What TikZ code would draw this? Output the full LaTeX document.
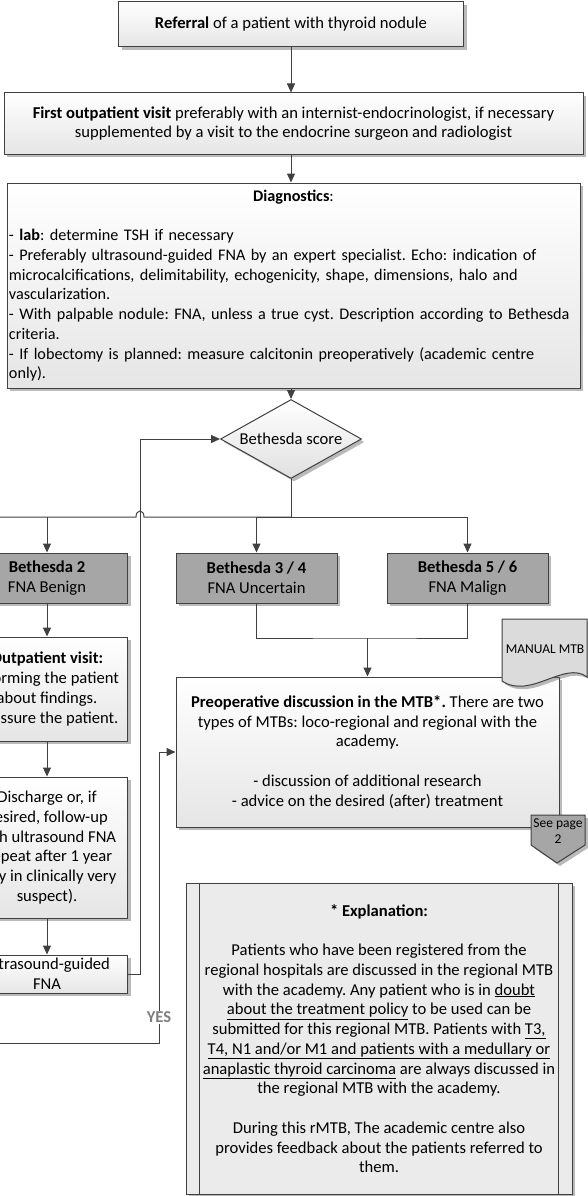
\documentclass[tikz,border=0pt]{standalone}
\usepackage{fontspec}
\setmainfont{Carlito}
\usetikzlibrary{arrows.meta,shapes.geometric,shadows}
\frenchspacing

\definecolor{lineGray}{HTML}{404040}
\definecolor{midFill}{HTML}{A6A6A6}
\definecolor{noteFill}{HTML}{EBEBEB}
\definecolor{yesGray}{HTML}{7F7F7F}

\newlength{\sidewidth}
\setlength{\sidewidth}{161pt}

\tikzset{
    boxbase/.style={draw=lineGray, line width=1pt, inner sep=2pt, text=black,
        font=\fontsize{16.6pt}{19.75pt}\selectfont,
        drop shadow={shadow xshift=3pt, shadow yshift=-3pt, fill=black!60, opacity=0.45}},
    stepbox/.style={boxbase, rectangle, top color=white, bottom color=black!10, align=center},
    darkbox/.style={boxbase, rectangle, fill=midFill, align=center,
        minimum width=\sidewidth, minimum height=50pt},
    wire/.style={draw=lineGray, line width=1pt},
    flow/.style={wire, -{Triangle[length=9pt,width=8pt]}},
    yeslabel/.style={fill=white, inner sep=1pt, text=yesGray,
        font=\fontsize{16.6pt}{19.75pt}\selectfont\bfseries},
    smalltext/.style={inner sep=0pt, text=black, align=center,
        font=\fontsize{13.5pt}{16pt}\selectfont}
}

\begin{document}
\begin{tikzpicture}[x=1pt, y=-1pt]
    \useasboundingbox (0,0) rectangle (588,1196);
    \clip (0,0) rectangle (588,1196);

    \node[stepbox, minimum width=345pt, minimum height=45pt] (referral) at (291,24.5)
        {\textbf{Referral} of a patient with thyroid nodule};
    \node[stepbox, minimum width=579pt, minimum height=61pt] (firstVisit) at (293.5,123.5)
        {\textbf{First outpatient visit} preferably with an internist-endocrinologist, if necessary\\
         supplemented by a visit to the endocrine surgeon and radiologist};
    \node[stepbox, align=left, text width=569pt, minimum height=205pt,
        font=\fontsize{16.2pt}{19.75pt}\selectfont] (diagnostics) at (293.5,285.5)
        {\makebox[569pt]{\textbf{Diagnostics}:}\\[19.75pt]
         - \textbf{lab}: determine TSH if necessary\\
         - Preferably ultrasound-guided FNA by an expert specialist. Echo: indication of\\
         microcalcifications, delimitability, echogenicity, shape, dimensions, halo and\\
         vascularization.\\
         - With palpable nodule: FNA, unless a true cyst. Description according to Bethesda\\
         criteria.\\
         - If lobectomy is planned: measure calcitonin preoperatively (academic centre\\
         only).};
    \node[boxbase, diamond, aspect=1.78, inner sep=0pt, minimum width=141pt, minimum height=79pt,
        top color=white, bottom color=black!12] (score) at (291,439) {Bethesda score};

    \node[darkbox] (bethesdaTwo) at (47,578) {\textbf{Bethesda 2}\\FNA Benign};
    \node[darkbox] (bethesdaThree) at (256.5,578) {\textbf{Bethesda 3 / 4}\\FNA Uncertain};
    \node[darkbox] (bethesdaFive) at (467.5,578) {\textbf{Bethesda 5 / 6}\\FNA Malign};

    \node[stepbox, minimum width=\sidewidth, minimum height=104pt] (visitTwo) at (47,689)
        {\textbf{Outpatient visit:}\\Informing the patient\\about findings.\\Reassure the patient.};
    \node[stepbox, minimum width=\sidewidth, minimum height=141pt] (discharge) at (47,847.5)
        {Discharge or, if\\desired, follow-up\\with ultrasound FNA\\(repeat after 1 year\\only in clinically very\\suspect).};
    \node[stepbox, minimum width=\sidewidth, minimum height=38pt, inner sep=0pt] (ultrasound) at (47,974)
        {Ultrasound-guided\\FNA};

    \node[stepbox, minimum width=383pt, minimum height=150pt] (mtb) at (367.5,752)
        {\textbf{Preoperative discussion in the MTB*.} There are two\\
         types of MTBs: loco-regional and regional with the\\
         academy.\\[19.75pt]
         - discussion of additional research\\
         - advice on the desired (after) treatment};

    \node[boxbase, fill=noteFill, minimum width=386pt, minimum height=311pt, align=center] (explanation) at (379,1038.5)
        {\textbf{* Explanation:}\\[19.75pt]
         Patients who have been registered from the\\
         regional hospitals are discussed in the regional MTB\\
         with the academy. Any patient who is in \underline{doubt}\\
         \underline{about the treatment policy} to be used can be\\
         submitted for this regional MTB. Patients with \underline{T3,}\\
         \underline{T4, N1 and/or M1 and patients with a medullary or}\\
         \underline{anaplastic thyroid carcinoma} are always discussed in\\
         the regional MTB with the academy.\\[19.75pt]
         During this rMTB, The academic centre also\\
         provides feedback about the patients referred to\\
         them.};
    \draw[wire] ([xshift=14pt]explanation.north west) -- ([xshift=14pt]explanation.south west);
    \draw[wire] ([xshift=-14pt]explanation.north east) -- ([xshift=-14pt]explanation.south east);

    \draw[boxbase, fill=black!14] (502,619) -- (587,619) -- (587,677)
        .. controls (565,660) and (530,700) .. (502,681) -- cycle;
    \node[smalltext] (manual) at (545,649) {MANUAL MTB};

    \draw[boxbase, fill=midFill] (531,815) -- (585,815) -- (585,845) -- (557,863) -- (531,845) -- cycle;
    \node[smalltext] (seePage) at (558,831) {See page\\2};

    \coordinate (split) at (291,517);
    \coordinate (hopRight) at (144,517);
    \coordinate (hopLeft) at (136,517);
    \coordinate (leftOut) at (-40,517);
    \coordinate (loopTurn) at (140,439);
    \coordinate (join) at (367.5,638);
    \coordinate (yesOut) at (-40,1043);
    \coordinate (yesTurn) at (159,1043);

    \draw[flow] (referral.south) -- (referral.south |- firstVisit.north);
    \draw[flow] (referral.south |- firstVisit.south) -- (referral.south |- diagnostics.north);
    \draw[flow] (referral.south |- diagnostics.south) -- (score.north);
    \draw[wire] (score.south) -- (split);
    \draw[flow] (split) -| (bethesdaThree.north);
    \draw[flow] (split) -| (bethesdaFive.north);
    \draw[wire] (split) -- (hopRight) .. controls (144,509) and (136,509) .. (hopLeft) -- (leftOut);
    \draw[flow] (bethesdaTwo.north |- split) -- (bethesdaTwo.north);

    \draw[flow] (bethesdaTwo) -- (visitTwo);
    \draw[flow] (visitTwo) -- (discharge);
    \draw[flow] (discharge) -- (ultrasound);
    \draw[flow] (ultrasound.east) -| (loopTurn) -- (score.west);

    \draw[wire] (bethesdaThree.south) |- (join) -| (bethesdaFive.south);
    \draw[flow] (join) -- (mtb.north);

    \draw[flow] (yesOut) -- (yesTurn) -- (yesTurn |- mtb.west) -- (mtb.west);
    \node[yeslabel] (yes) at (159,1017) {YES};
\end{tikzpicture}
\end{document}
